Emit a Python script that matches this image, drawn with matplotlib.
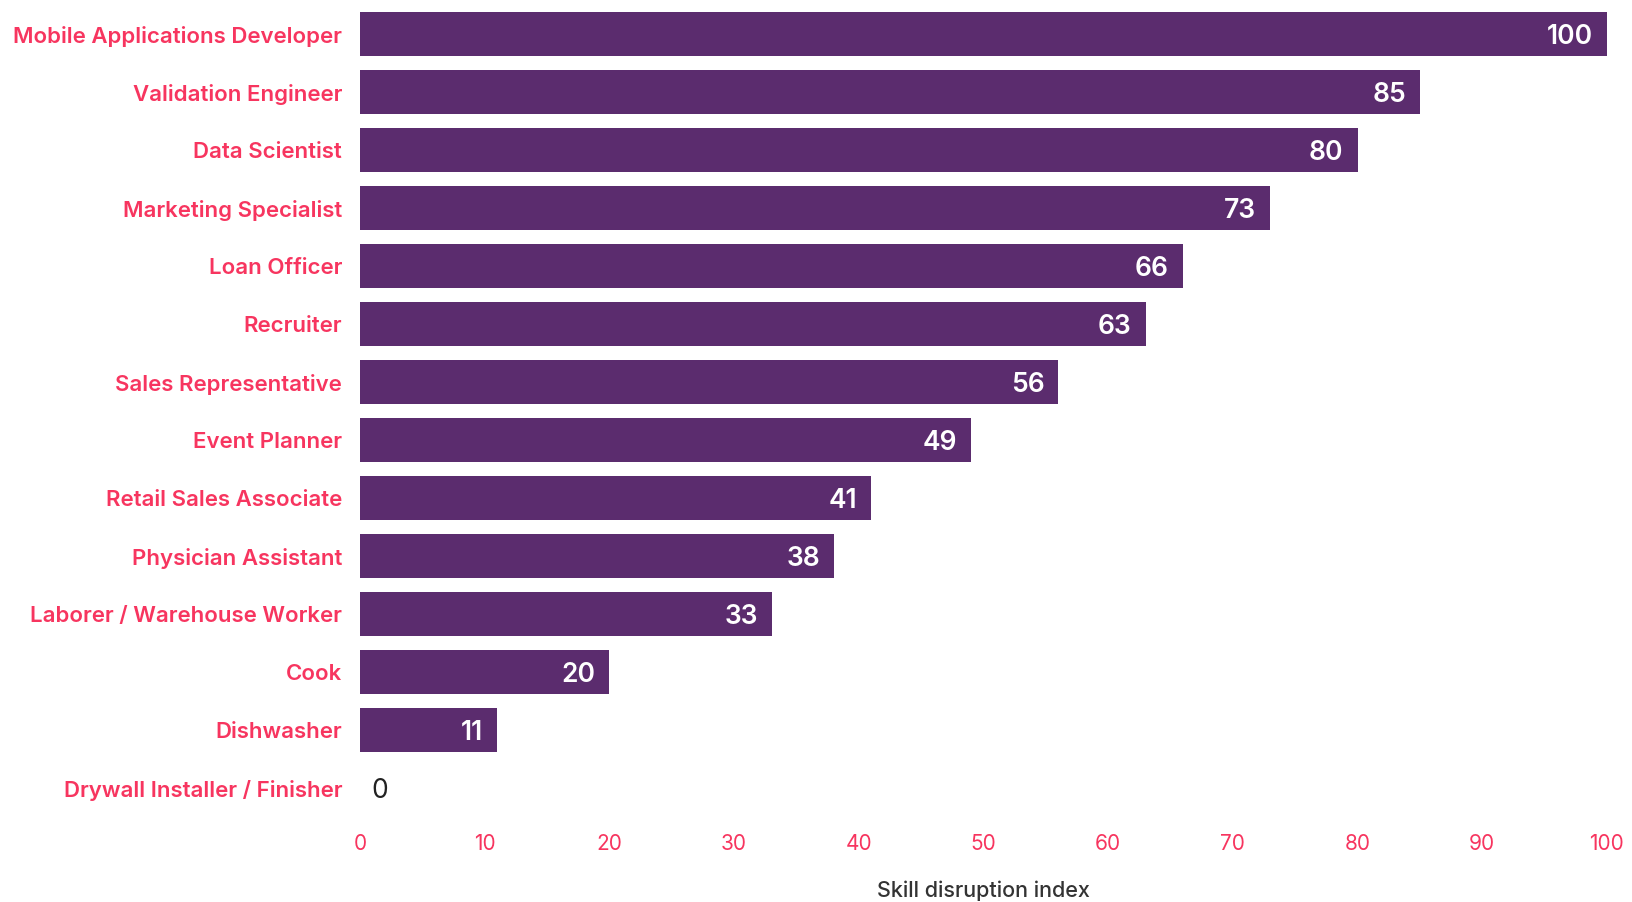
import matplotlib.pyplot as plt

# occupations, top to bottom
jobs = ['Mobile Applications Developer', 'Validation Engineer', 'Data Scientist',
        'Marketing Specialist', 'Loan Officer', 'Recruiter', 'Sales Representative',
        'Event Planner', 'Retail Sales Associate', 'Physician Assistant',
        'Laborer / Warehouse Worker', 'Cook', 'Dishwasher', 'Drywall Installer / Finisher']
# skill disruption index
index_vals = [100, 85, 80, 73, 66, 63, 56, 49, 41, 38, 33, 20, 11, 0]
x_ticks = [0, 10, 20, 30, 40, 50, 60, 70, 80, 90, 100]

purple = '#5b2c6e'
pink = '#f7355f'

plt.rcParams['font.family'] = ['Inter', 'DejaVu Sans']

fig = plt.figure(figsize=(16.33, 9.02), dpi=100)
ax = fig.add_axes([0.2205, 0.094, 0.7635, 0.9])

ypos = list(range(len(jobs)))
ax.barh(ypos, index_vals, height=0.76, color=purple)

for y, v in zip(ypos, index_vals):
    if v > 0:
        ax.annotate(str(v), (v, y), xytext=(-10, 0), textcoords='offset points',
                    ha='right', va='center_baseline', color='white', fontsize=19, fontweight='semibold')
    else:
        ax.annotate(str(v), (v, y), xytext=(8, 0), textcoords='offset points',
                    ha='left', va='center_baseline', color='#222222', fontsize=19)

ax.set_ylim(13.5, -0.5)
ax.set_xlim(0, 100)
ax.set_yticks(ypos)
ax.set_yticklabels(jobs, color=pink, fontsize=16, fontweight='semibold')
ax.set_xticks(x_ticks)
ax.set_xticklabels([str(t) for t in x_ticks], color=pink, fontsize=15)
ax.tick_params(axis='y', length=0, pad=13)
ax.tick_params(axis='x', length=0, pad=12)
ax.set_xlabel('Skill disruption index', fontsize=15.5, color='#333333', labelpad=19,
              fontweight='medium')

for s in ax.spines.values():
    s.set_visible(False)

plt.savefig('out.png', dpi=100)
